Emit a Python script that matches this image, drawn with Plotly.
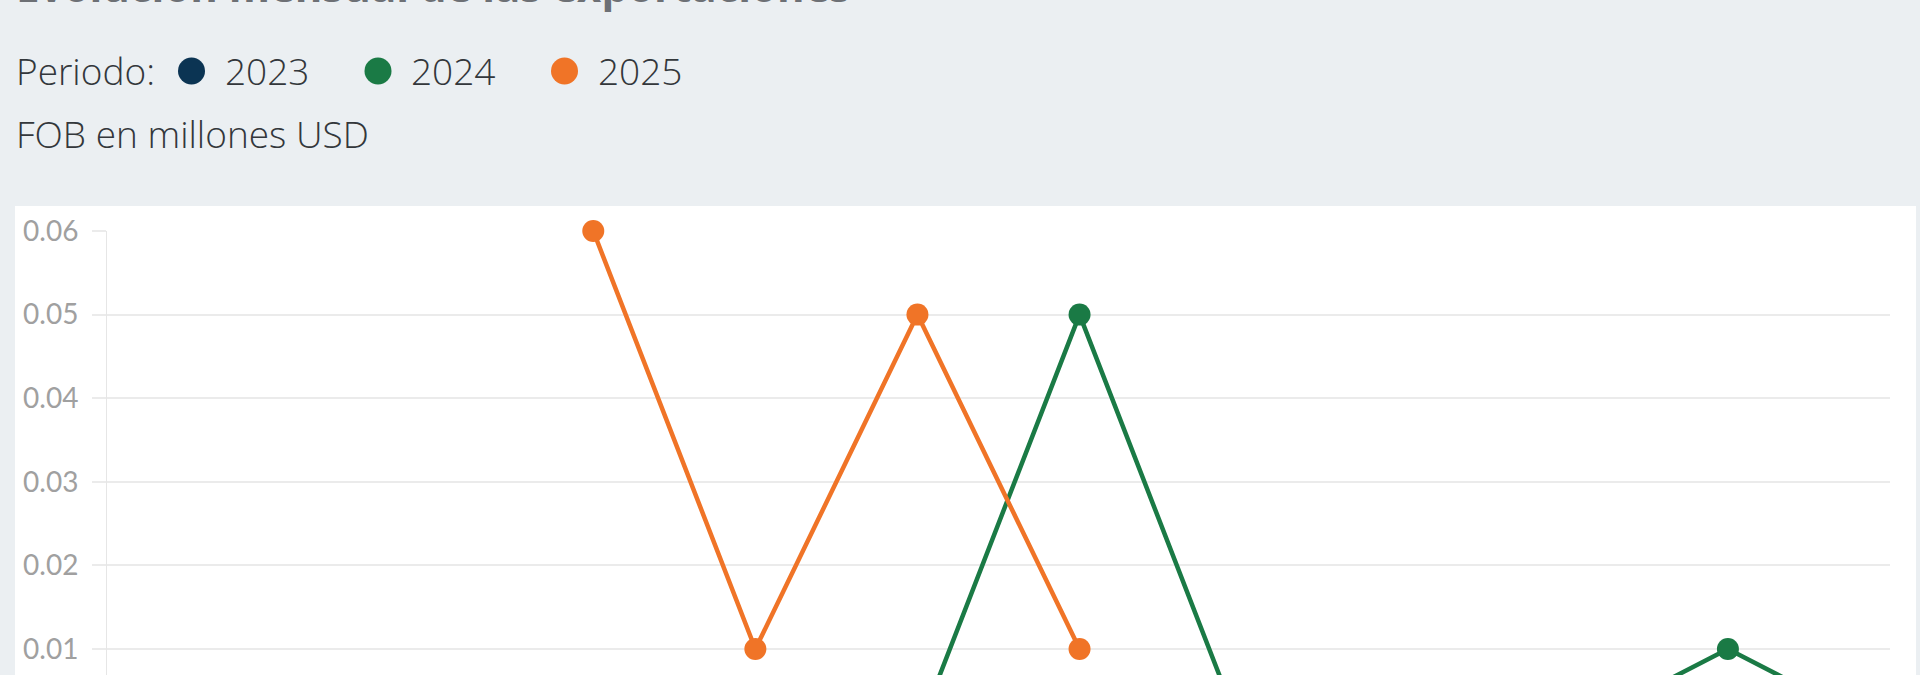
import plotly.graph_objects as go

# Monthly FOB exports (millions USD) by period
meses = ["Ene", "Feb", "Mar", "Abr", "May", "Jun", "Jul", "Ago", "Sep", "Oct", "Nov", "Dic"]
fob_2023 = [0, 0, 0, 0, 0, 0, 0, 0, 0, 0, 0, 0]
fob_2024 = [0, 0, 0, 0, 0, 0, 0.05, 0, 0, 0, 0.01, 0]
fob_2025 = [None, None, None, 0.06, 0.01, 0.05, 0.01, None, None, None, None, None]

periodos = ["2023", "2024", "2025"]
colores = ["#0B3453", "#1A7A45", "#F07427"]
series = [fob_2023, fob_2024, fob_2025]

W, H = 1920, 675
M_L, M_R, M_T, M_B = 107, 30, 231, 0
PW, PH = W - M_L - M_R, H - M_T - M_B


def px_x(p):
    return (p - M_L) / PW


def px_y(p):
    return (H - p) / PH


fig = go.Figure()
for nombre, color, vals in zip(periodos, colores, series):
    fig.add_trace(go.Scatter(
        x=meses, y=vals, name=nombre, mode="lines+markers",
        line=dict(color=color, width=4.5),
        marker=dict(color=color, size=22),
        cliponaxis=False, showlegend=False,
    ))

# white card behind the plot
fig.add_shape(type="rect", xref="paper", yref="paper",
              x0=px_x(15), x1=px_x(1916), y0=px_y(700), y1=px_y(206),
              fillcolor="white", line=dict(width=0), layer="below")

texto = "#33373B"
anns = [
    dict(text="<b>Evolución mensual de las exportaciones</b>", x=px_x(14), y=px_y(16),
         xanchor="left", yanchor="bottom",
         font=dict(family="Open Sans", size=42, color="#6D7075")),
    dict(text="Periodo:", x=px_x(14), y=px_y(70), xanchor="left", yanchor="middle",
         font=dict(family="Open Sans", size=37, color=texto, weight=300)),
    dict(text="FOB en millones USD", x=px_x(14), y=px_y(133), xanchor="left", yanchor="middle",
         font=dict(family="Open Sans", size=37, color=texto, weight=300)),
]
centros = [191.5, 378, 564.5]
for nombre, color, cx in zip(periodos, colores, centros):
    r = 13.5
    fig.add_shape(type="circle", xref="paper", yref="paper",
                  x0=px_x(cx - r), x1=px_x(cx + r), y0=px_y(71 + r), y1=px_y(71 - r),
                  fillcolor=color, line=dict(width=0))
    anns.append(dict(text=nombre, x=px_x(cx + 31), y=px_y(70), xanchor="left", yanchor="middle",
                     font=dict(family="Open Sans", size=37, color=texto, weight=300)))
for a in anns:
    a.update(xref="paper", yref="paper", showarrow=False)
fig.update_layout(annotations=anns)

fig.update_layout(
    width=W, height=H,
    margin=dict(l=M_L, r=M_R, t=M_T, b=M_B, pad=0),
    paper_bgcolor="#EBEFF2", plot_bgcolor="white",
    showlegend=False,
    xaxis=dict(range=[0, 11], showgrid=False, zeroline=False, showline=False,
               showticklabels=False, ticks=""),
    yaxis=dict(range=[0.00689, 0.06], tickvals=[0, 0.01, 0.02, 0.03, 0.04, 0.05, 0.06],
               tickformat=".2f", showgrid=True, gridcolor="#EBEBEB", gridwidth=2,
               zeroline=False, showline=True, linecolor="#E6E6E6", linewidth=1,
               ticks="outside", ticklen=14, tickcolor="#EBEBEB", tickwidth=2,
               ticklabelstandoff=8,
               tickfont=dict(family="Lato", size=28, color="#A0A0A0")),
)

fig.write_html("out.html")
